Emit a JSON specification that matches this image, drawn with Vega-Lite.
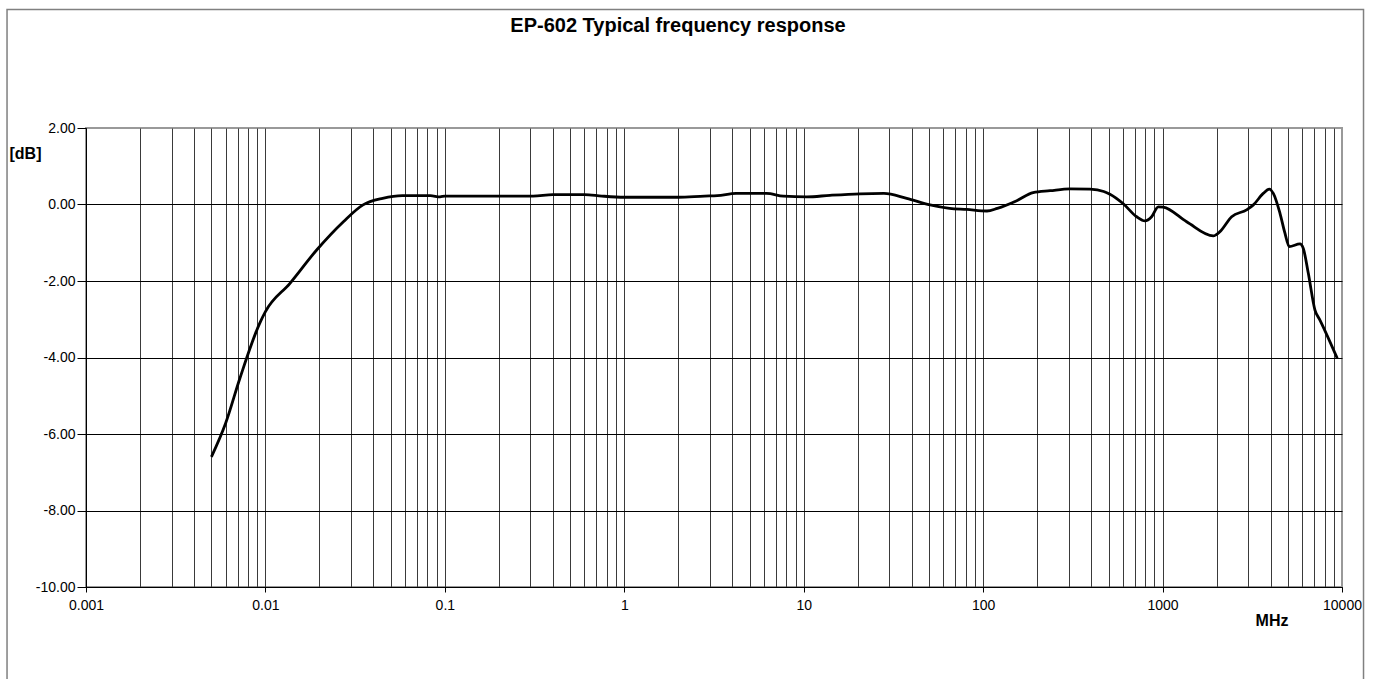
{
  "$schema": "https://vega.github.io/schema/vega-lite/v6.json",
  "width": 1256,
  "height": 459,
  "autosize": {"type": "none"},
  "padding": {"left": 86, "top": 128, "right": 35, "bottom": 92},
  "background": "white",
  "title": {
    "text": "EP-602 Typical frequency response",
    "font": "Liberation Sans",
    "fontSize": 20,
    "fontWeight": "bold",
    "color": "black",
    "anchor": "middle",
    "frame": "group",
    "baseline": "alphabetic",
    "dx": -36,
    "offset": -43
  },
  "config": {
    "view": {"stroke": "#999999", "strokeWidth": 2},
    "axis": {
      "labelFont": "Liberation Sans",
      "labelFontSize": 14,
      "labelColor": "black",
      "titleFont": "Liberation Sans",
      "titleFontSize": 16,
      "titleFontWeight": "bold",
      "titleColor": "black",
      "domainColor": "black",
      "domainWidth": 1,
      "tickColor": "black",
      "labelFlush": false,
      "labelOverlap": false
    }
  },
  "layer": [
    {
      "data": {
        "values": [
          {"f": 0.005, "db": -6.6},
          {"f": 0.006, "db": -5.72},
          {"f": 0.0072, "db": -4.55},
          {"f": 0.0093, "db": -3.1},
          {"f": 0.01, "db": -2.8},
          {"f": 0.0137, "db": -2.06},
          {"f": 0.0193, "db": -1.19},
          {"f": 0.0272, "db": -0.45},
          {"f": 0.035, "db": -0.01},
          {"f": 0.045, "db": 0.16},
          {"f": 0.058, "db": 0.23},
          {"f": 0.083, "db": 0.23},
          {"f": 0.094, "db": 0.2},
          {"f": 0.1, "db": 0.22},
          {"f": 0.2, "db": 0.22},
          {"f": 0.31, "db": 0.22},
          {"f": 0.4, "db": 0.26},
          {"f": 0.6, "db": 0.26},
          {"f": 0.75, "db": 0.22},
          {"f": 1, "db": 0.19},
          {"f": 2, "db": 0.19},
          {"f": 2.8, "db": 0.22},
          {"f": 3.3, "db": 0.23},
          {"f": 4.2, "db": 0.29},
          {"f": 6.2, "db": 0.29},
          {"f": 7.7, "db": 0.22},
          {"f": 10.4, "db": 0.2},
          {"f": 14, "db": 0.24},
          {"f": 20.6, "db": 0.28},
          {"f": 28, "db": 0.29},
          {"f": 37.5, "db": 0.16},
          {"f": 50.6, "db": -0.01},
          {"f": 65, "db": -0.1},
          {"f": 81, "db": -0.13},
          {"f": 105, "db": -0.17},
          {"f": 120, "db": -0.1},
          {"f": 154, "db": 0.1},
          {"f": 190, "db": 0.31},
          {"f": 236, "db": 0.36},
          {"f": 305, "db": 0.41},
          {"f": 394, "db": 0.4},
          {"f": 470, "db": 0.34},
          {"f": 509, "db": 0.27},
          {"f": 604, "db": 0.02},
          {"f": 717, "db": -0.32},
          {"f": 798, "db": -0.43},
          {"f": 869, "db": -0.32},
          {"f": 946, "db": -0.06},
          {"f": 1009, "db": -0.07},
          {"f": 1362, "db": -0.45},
          {"f": 1917, "db": -0.82},
          {"f": 2089, "db": -0.71},
          {"f": 2427, "db": -0.32},
          {"f": 2942, "db": -0.14},
          {"f": 3207, "db": -0.01},
          {"f": 3640, "db": 0.29},
          {"f": 3933, "db": 0.4},
          {"f": 4141, "db": 0.29},
          {"f": 4512, "db": -0.23},
          {"f": 4809, "db": -0.75},
          {"f": 5083, "db": -1.1},
          {"f": 5834, "db": -1.03},
          {"f": 6086, "db": -1.15},
          {"f": 6490, "db": -1.8},
          {"f": 7068, "db": -2.76},
          {"f": 7535, "db": -3.02},
          {"f": 9410, "db": -4.02}
        ]
      },
      "mark": {"type": "line", "interpolate": "monotone", "stroke": "black", "strokeWidth": 2.8},
      "encoding": {
        "x": {
          "field": "f",
          "type": "quantitative",
          "title": "MHz",
          "scale": {"type": "log", "domain": [0.001, 10000], "nice": false},
          "axis": {
            "title": "MHz",
            "titleX": 1185.5,
            "titleY": 33,
            "titleAlign": "center",
            "titleBaseline": "middle",
            "values": [0.001, 0.002, 0.003, 0.004, 0.005, 0.006, 0.007, 0.008, 0.009,
                       0.01, 0.02, 0.03, 0.04, 0.05, 0.06, 0.07, 0.08, 0.09,
                       0.1, 0.2, 0.3, 0.4, 0.5, 0.6, 0.7, 0.8, 0.9,
                       1, 2, 3, 4, 5, 6, 7, 8, 9,
                       10, 20, 30, 40, 50, 60, 70, 80, 90,
                       100, 200, 300, 400, 500, 600, 700, 800, 900,
                       1000, 2000, 3000, 4000, 5000, 6000, 7000, 8000, 9000, 10000],
            "grid": true,
            "gridColor": "#3a3a3a",
            "gridWidth": 1,
            "gridOpacity": {"condition": {"test": "datum.value == 10000", "value": 0}, "value": 1},
            "tickSize": 5,
            "tickOpacity": {"condition": {"test": "indexof([0.001, 0.01, 0.1, 1, 10, 100, 1000, 10000], datum.value) >= 0", "value": 1}, "value": 0},
            "labelPadding": 6,
            "labelExpr": "indexof([0.001, 0.01, 0.1, 1, 10, 100, 1000, 10000], datum.value) >= 0 ? format(datum.value, '~g') : ''"
          }
        },
        "y": {
          "field": "db",
          "type": "quantitative",
          "title": "[dB]",
          "scale": {"domain": [-10, 2], "nice": false, "zero": false},
          "axis": {
            "title": "[dB]",
            "titleAngle": 0,
            "titleX": -77,
            "titleY": 25,
            "titleAlign": "left",
            "titleBaseline": "middle",
            "values": [-10, -8, -6, -4, -2, 0, 2],
            "grid": true,
            "gridColor": "black",
            "gridWidth": 1,
            "gridOpacity": {"condition": {"test": "datum.value == 2", "value": 0}, "value": 1},
            "tickSize": 9,
            "labelPadding": 2,
            "labelExpr": "replace(format(datum.value, '.2f'), '\u2212', '-')"
          }
        }
      }
    },
    {
      "data": {"values": [{}]},
      "mark": {"type": "rect", "filled": false, "stroke": "#808080", "strokeWidth": 1.5},
      "encoding": {
        "x": {"datum": 0.000363, "type": "quantitative", "title": "MHz", "scale": {"type": "log"}},
        "x2": {"datum": 13181},
        "y": {"datum": 5.1, "type": "quantitative", "title": "[dB]"},
        "y2": {"datum": -13}
      }
    }
  ]
}
